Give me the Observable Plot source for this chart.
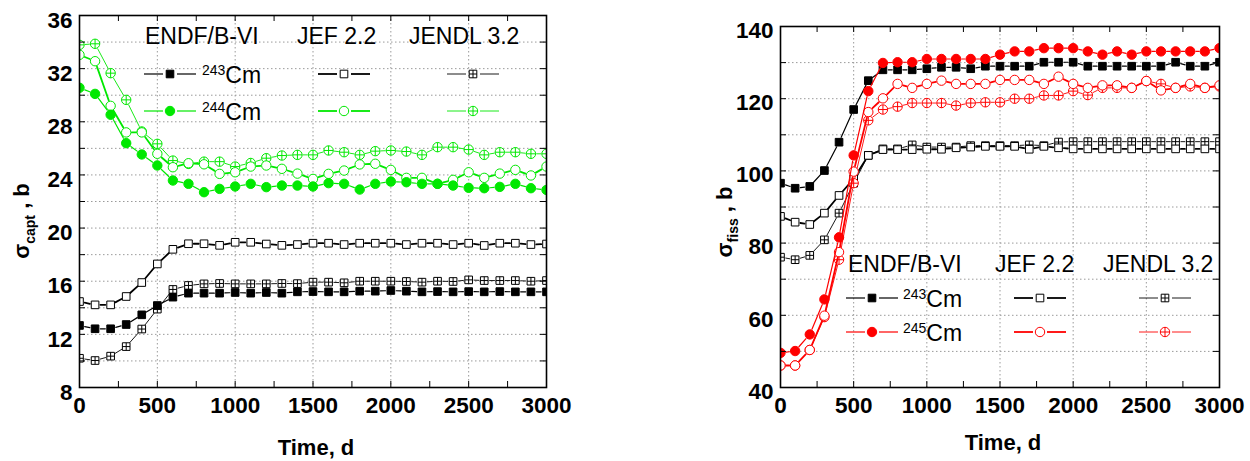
<!DOCTYPE html>
<html><head><meta charset="utf-8">
<script src="https://cdn.jsdelivr.net/npm/d3@7"></script>
<script src="https://cdn.jsdelivr.net/npm/@observablehq/plot@0.6"></script>
<style>
html,body{margin:0;padding:0;background:#fff;}
#wrap{position:relative;width:1250px;height:461px;overflow:hidden;font-family:'Liberation Sans',Arial,sans-serif;}
#wrap svg{position:absolute;top:0;}
</style></head><body><div id="wrap"></div>
<script>
// ---------- data ----------
const time = [0,100,200,300,400,500,600,700,800,900,1000,1100,1200,1300,1400,1500,1600,1700,1800,1900,2000,2100,2200,2300,2400,2500,2600,2700,2800,2900,3000];

// capture cross-section, b (left panel)
const capt243Endf = [12.67,12.42,12.42,12.74,13.47,14.17,14.8,15.1,15.1,15.1, 15.15,15.1,15.15,15.1,15.2,15.22,15.2,15.2,15.25,15.25, 15.3,15.25,15.2,15.22,15.2,15.22,15.2,15.22,15.2,15.2,15.2];
const capt243Jef  = [14.47,14.22,14.22,14.85,15.9,17.3,18.4,18.82,18.82,18.7, 18.93,18.93,18.8,18.7,18.76,18.86,18.86,18.76,18.86,18.86, 18.86,18.76,18.86,18.86,18.76,18.86,18.69,18.86,18.86,18.76,18.8];
const capt243Jendl= [10.2,10.03,10.36,11.08,12.4,13.9,15.38,15.68,15.8,15.83, 15.8,15.8,15.8,15.83,15.82,15.93,15.93,15.88,16.0,16.0, 16.0,15.98,15.93,16.0,15.98,16.1,16.05,16.05,16.05,16.0,16.05];
const capt244Endf = [30.56,30.1,28.53,26.39,25.54,24.71,23.58,23.33,22.7,22.95, 23.13,23.33,23.08,23.2,23.2,23.13,23.38,23.33,22.9,23.33, 23.5,23.45,23.33,23.33,23.2,23.03,23.0,23.1,23.33,23.0,22.87];
const capt244Jef  = [33.04,32.56,29.2,27.2,27.2,25.59,24.58,24.88,24.8,24.08, 24.2,24.63,24.71,24.46,24.1,23.7,24.08,24.33,24.79,24.84, 24.38,23.78,23.78,23.33,23.63,24.2,23.78,24.1,24.38,23.96,24.63];
const capt244Jendl= [33.79,33.87,31.66,29.65,27.27,26.34,25.08,24.83,25.0,25.0, 24.63,24.9,25.26,25.46,25.51,25.51,25.84,25.71,25.51,25.79, 25.84,25.76,25.51,26.09,26.09,25.91,25.51,25.71,25.71,25.59,25.59];

// fission cross-section, b (right panel)
const fiss243Endf = [96.6,95.2,95.7,100.1,107.95,117.0,125.0,128.0,128.0,128.0, 128.3,128.7,128.7,128.3,129.0,129.0,129.0,129.0,130.1,130.1, 130.1,129.0,129.0,129.0,129.0,129.0,129.0,130.1,129.0,129.0,130.1];
const fiss243Jef  = [87.4,85.8,85.15,88.3,93.2,97.8,104.3,105.9,105.9,105.9, 106.0,106.0,106.4,106.6,106.8,106.8,106.8,106.0,106.8,106.4, 106.1,106.1,106.1,106.1,106.1,106.1,106.1,106.1,106.1,106.1,106.1];
const fiss243Jendl= [76.1,75.4,76.6,80.9,88.3,96.6,104.3,106.1,106.1,107.2, 106.6,106.6,106.6,107.0,107.0,107.0,107.0,107.2,107.0,108.0, 108.1,108.1,108.1,108.1,108.1,108.1,108.1,108.1,108.1,108.1,108.1];
const fiss245Endf = [49.6,50.1,54.7,64.4,81.6,104.3,122.1,129.9,130.1,130.1, 131.0,131.0,131.0,131.0,131.0,132.2,133.1,133.1,134.0,134.0, 134.0,133.1,132.2,133.1,132.2,133.1,133.1,133.1,133.1,133.1,134.0];
const fiss245Jef  = [46.1,46.1,50.4,59.9,77.5,99.8,116.3,120.1,124.1,123.0, 124.1,125.0,124.1,124.1,124.1,125.2,125.2,125.2,124.1,126.1, 124.1,123.0,123.7,123.7,123.0,124.9,122.3,123.0,124.1,123.0,123.7];
const fiss245Jendl= [46.1,46.1,50.4,59.5,75.4,96.6,114.0,117.0,117.8,118.8, 118.8,118.8,118.1,118.8,119.0,119.0,120.0,120.0,120.9,120.9, 122.1,121.0,123.0,123.0,123.0,124.9,124.1,123.0,123.4,123.0,123.4];

// ticks / labels
const xTickLabels = [0,500,1000,1500,2000,2500,3000];
const xMinorTicks = [250,500,750,1000,1250,1500,1750,2000,2250,2500,2750];
const xGrid = [500,1000,1500,2000,2500];
const yCaptLabels = [8,12,16,20,24,28,32,36];
const yCaptTicks = [10,12,14,16,18,20,22,24,26,28,30,32,34];
const yFissLabels = [40,60,80,100,120,140];
const yFissTicks = [50,60,70,80,90,100,110,120,130];

const libraries = ["ENDF/B-VI","JEF 2.2","JENDL 3.2"];
const GREEN = "#00e800", RED = "#ff0000", BLACK = "#000000";
const FONT = "'Liberation Sans', Arial, Helvetica, sans-serif";

// ---------- symbols ----------
const squarePlus = {draw(ctx, size){const s=Math.sqrt(size)/2;ctx.moveTo(-s,-s);ctx.lineTo(s,-s);ctx.lineTo(s,s);ctx.lineTo(-s,s);ctx.closePath();ctx.moveTo(-s,0);ctx.lineTo(s,0);ctx.moveTo(0,-s);ctx.lineTo(0,s);}};
const circlePlus = {draw(ctx, size){const r=Math.sqrt(size/Math.PI);ctx.moveTo(r,0);ctx.arc(0,0,r,0,2*Math.PI);ctx.closePath();ctx.moveTo(-r,0);ctx.lineTo(r,0);ctx.moveTo(0,-r);ctx.lineTo(0,r);}};
const LINEW = {endf: 1.2, jef: 1.8, jendl: 0.9};
function symbolFor(lib, shape){
  if (shape === "square") return lib === "jendl" ? squarePlus : d3.symbolSquare;
  return lib === "jendl" ? circlePlus : d3.symbolCircle;
}
function radiusFor(shape){ return shape === "square" ? 4.3 : 4.7; }

function seriesMarks(values, color, lib, shape){
  const rows = time.map((t,i)=>({t, v: values[i]}));
  const segs = d3.pairs(rows).map(([a,b])=>({x1:a.t,y1:a.v,x2:b.t,y2:b.v}));
  const r = radiusFor(shape);
  return [
    Plot.arrow(segs, {x1:"x1", y1:"y1", x2:"x2", y2:"y2", stroke: color, strokeWidth: LINEW[lib], headLength: 0, insetStart: r+1, insetEnd: r+1, clip: true}),
    Plot.dot(rows, {x:"t", y:"v", symbol: symbolFor(lib, shape), r, fill: lib==="endf" ? color : "white", stroke: color, strokeWidth: 1, clip: true})
  ];
}

function panel({left, width, mT, mB, mL, mR, yDomain, yLabels, yTicks, series, yDy}){
  const H = 461, fh = H - mT - mB, fw = width - mL - mR, tl = 6;
  const marks = [
    Plot.ruleX(xGrid, {stroke: "#9a9a9a", strokeDasharray: "1.5,2.5", strokeWidth: 1}),
    Plot.ruleY(yTicks.filter(v => v > yDomain[0] && v < yDomain[1]), {stroke: "#9a9a9a", strokeDasharray: "1.5,2.5", strokeWidth: 1}),
    ...series.flatMap(s => seriesMarks(...s)),
    Plot.ruleX(xMinorTicks, {insetTop: fh - tl, stroke: BLACK, strokeWidth: 1}),
    Plot.ruleX(xMinorTicks, {insetBottom: fh - tl, stroke: BLACK, strokeWidth: 1}),
    Plot.ruleY(yTicks, {insetRight: fw - tl, stroke: BLACK, strokeWidth: 1}),
    Plot.ruleY(yTicks, {insetLeft: fw - tl, stroke: BLACK, strokeWidth: 1}),
    Plot.frame({stroke: BLACK, strokeWidth: 1.6}),
    Plot.axisX({ticks: xTickLabels, tickSize: 0, tickPadding: 10, label: null, tickFormat: d => `${d}`, fontSize: 22.5, fontWeight: "bold"}),
    Plot.axisY({ticks: yLabels, tickSize: 0, tickPadding: 7, dy: yDy, label: null, tickFormat: d => `${d}`, fontSize: 22.5, fontWeight: "bold"})
  ];
  const svg = Plot.plot({
    width, height: H, marginTop: mT, marginBottom: mB, marginLeft: mL, marginRight: mR,
    x: {domain: [0, 3000]}, y: {domain: yDomain},
    style: {fontFamily: FONT, background: "transparent", color: "black", overflow: "visible"},
    marks
  });
  svg.style.left = left + "px";
  return svg;
}

const wrap = document.getElementById("wrap");
wrap.appendChild(panel({
  left: 0, width: 560, mT: 15, mB: 74, mL: 79, mR: 14, yDomain: [8, 36], yDy: 5,
  yLabels: yCaptLabels, yTicks: yCaptTicks,
  series: [
    [capt243Jendl, BLACK, "jendl", "square"],
    [capt243Jef, BLACK, "jef", "square"],
    [capt243Endf, BLACK, "endf", "square"],
    [capt244Jendl, GREEN, "jendl", "circle"],
    [capt244Jef, GREEN, "jef", "circle"],
    [capt244Endf, GREEN, "endf", "circle"]
  ]
}));
wrap.appendChild(panel({
  left: 690, width: 560, mT: 26, mB: 74, mL: 90, mR: 31, yDomain: [40, 140], yDy: 4,
  yLabels: yFissLabels, yTicks: yFissTicks,
  series: [
    [fiss243Jendl, BLACK, "jendl", "square"],
    [fiss243Jef, BLACK, "jef", "square"],
    [fiss243Endf, BLACK, "endf", "square"],
    [fiss245Jendl, RED, "jendl", "circle"],
    [fiss245Jef, RED, "jef", "circle"],
    [fiss245Endf, RED, "endf", "circle"]
  ]
}));

// ---------- overlay: legends and axis titles ----------
const ov = d3.select(wrap).append("svg").attr("width",1250).attr("height",461)
  .style("left","0px").style("pointer-events","none").attr("font-family", FONT);

function sample(cx, cy, x1, x2, color, lib, shape){
  const gap = 7, w = LINEW[lib];
  ov.append("line").attr("x1",x1).attr("x2",cx-gap).attr("y1",cy).attr("y2",cy).attr("stroke",color).attr("stroke-width",w);
  ov.append("line").attr("x1",cx+gap).attr("x2",x2).attr("y1",cy).attr("y2",cy).attr("stroke",color).attr("stroke-width",w);
  const r = radiusFor(shape);
  ov.append("path").attr("transform",`translate(${cx},${cy})`)
    .attr("d", d3.symbol(symbolFor(lib, shape), Math.PI*r*r)())
    .attr("fill", lib==="endf" ? color : "white").attr("stroke", color).attr("stroke-width", 1);
}
function nuclide(x, baseline, mass){
  const t = ov.append("text").attr("x", x).attr("y", baseline).attr("font-size", 23);
  t.append("tspan").attr("font-size", 14).attr("dy", -8).text(mass);
  t.append("tspan").attr("dy", 8).text("Cm");
}
function header(xs, baseline){
  libraries.forEach((name,i) => ov.append("text").attr("x", xs[i]).attr("y", baseline).attr("font-size", 23).text(name));
}
function legend(o){
  header(o.hx, o.hy);
  const libs = ["endf","jef","jendl"];
  o.rows.forEach(row => {
    libs.forEach((lib,i) => sample(o.cx[i], row.y, o.cx[i]-26, o.cx[i]+26, row.color, lib, row.shape));
    nuclide(o.nx, row.y + 9, row.mass);
  });
}
legend({hx:[145,297,409], hy:44, cx:[170,344,473], nx:202,
  rows:[{y:74, color:BLACK, shape:"square", mass:"243"},{y:111, color:GREEN, shape:"circle", mass:"244"}]});
legend({hx:[848,995,1103], hy:272, cx:[872,1040,1165], nx:903,
  rows:[{y:298, color:BLACK, shape:"square", mass:"243"},{y:332, color:RED, shape:"circle", mass:"245"}]});

function yTitle(x, y, sub){
  const t = ov.append("text").attr("transform", `translate(${x},${y}) rotate(-90)`)
    .attr("text-anchor","middle").attr("font-size", 22).attr("font-weight","bold");
  t.append("tspan").text("σ");
  t.append("tspan").attr("font-size", 14).attr("dy", 6).text(sub);
  t.append("tspan").attr("dy", -6).text(" , b");
}
yTitle(29, 221, "capt");
yTitle(732, 222, "fiss");
function xTitle(x, y){
  ov.append("text").attr("x", x).attr("y", y).attr("text-anchor","middle")
    .attr("font-size", 22).attr("font-weight","bold").text("Time, d");
}
xTitle(316, 455);
xTitle(1003, 450);
</script>
</body></html>
